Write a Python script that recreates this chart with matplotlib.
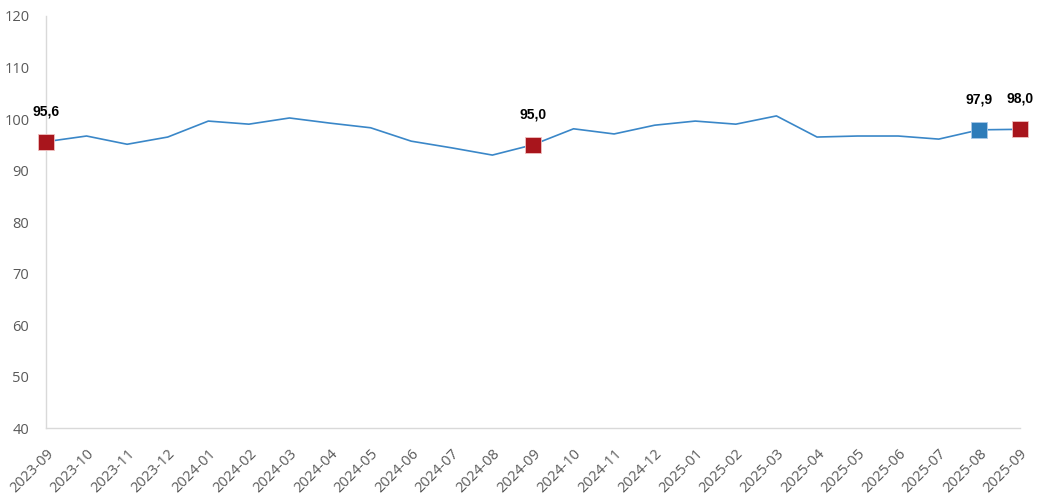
import matplotlib.pyplot as plt

months = ['2023-09', '2023-10', '2023-11', '2023-12', '2024-01', '2024-02', '2024-03',
          '2024-04', '2024-05', '2024-06', '2024-07', '2024-08', '2024-09', '2024-10',
          '2024-11', '2024-12', '2025-01', '2025-02', '2025-03', '2025-04', '2025-05',
          '2025-06', '2025-07', '2025-08', '2025-09']
values = [95.6, 96.7, 95.1, 96.5, 99.6, 99.0, 100.2, 99.2, 98.3, 95.7, 94.4, 93.0, 95.0,
          98.1, 97.1, 98.8, 99.6, 99.0, 100.6, 96.5, 96.7, 96.7, 96.1, 97.9, 98.0]
red_months = ['2023-09', '2024-09', '2025-09']
blue_months = ['2025-08']

line_color = '#3A87C8'
red = '#A8151C'
blue = '#2E7CB9'

fig = plt.figure(figsize=(10.45, 4.99), dpi=100)
ax = fig.add_axes([0.044, 0.142, 0.932, 0.826])

x = list(range(len(months)))
ax.plot(x, values, color=line_color, linewidth=1.2, zorder=2, clip_on=False)

for i, m in enumerate(months):
    if m in red_months or m in blue_months:
        c = red if m in red_months else blue
        ax.plot(i, values[i], marker='s', markersize=11.5, color=c,
                markeredgecolor='#f0c0c0' if c == red else '#a8c8e8',
                markeredgewidth=0.6, zorder=3, clip_on=False)
        ax.annotate(f'{values[i]:.1f}'.replace('.', ','), (i, values[i]),
                    xytext=(0, 17), textcoords='offset points', ha='center', va='bottom',
                    fontsize=10, fontweight='bold', family='Liberation Sans', color='black')

ax.set_xlim(0, len(months) - 1)
ax.set_ylim(40, 120)
ax.set_yticks(range(40, 121, 10))
ax.set_xticks(x)
ax.set_xticklabels(months, rotation=45, ha='right', rotation_mode='anchor')

for lab in ax.get_xticklabels():
    lab.set_family('Open Sans')
    lab.set_color('#595959')
    lab.set_fontsize(10.5)
for lab in ax.get_yticklabels():
    lab.set_family('Open Sans')
    lab.set_color('#595959')
    lab.set_fontsize(10.5)

ax.tick_params(length=0)
ax.tick_params(axis='y', pad=12)
ax.tick_params(axis='x', pad=13)
for s in ['top', 'right']:
    ax.spines[s].set_visible(False)
for s in ['left', 'bottom']:
    ax.spines[s].set_color('#D9D9D9')
    ax.spines[s].set_linewidth(1)

fig.savefig('out.png', dpi=100)
